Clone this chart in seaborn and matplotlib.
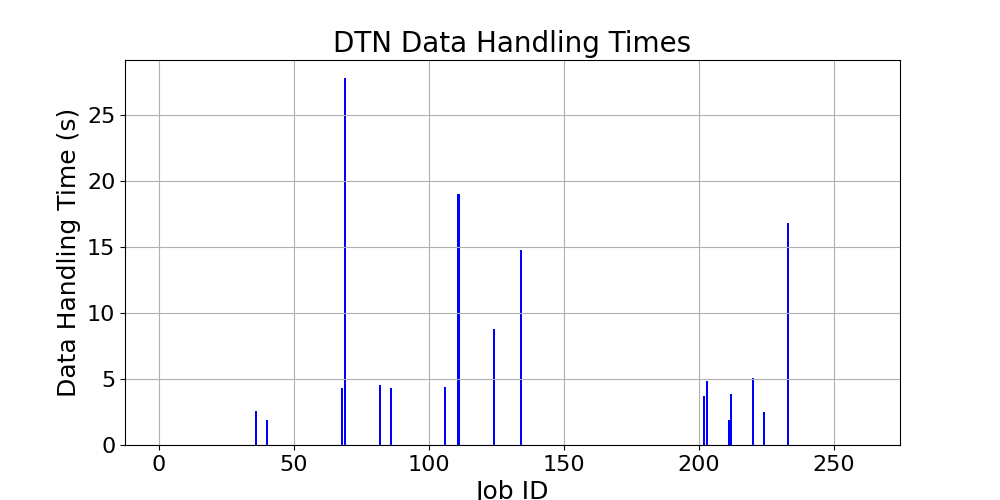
import matplotlib
matplotlib.use("Agg")
import matplotlib.pyplot as plt
import seaborn as sns
import pandas as pd

# ---------------------------------- Data ----------------------------------

job_ids = [36, 40, 68, 69, 82, 86, 106, 111, 124, 134,
           202, 203, 211, 212, 220, 224, 233]
handling_times = [2.6, 1.9, 4.3, 27.8, 4.55, 4.3, 4.4, 19.0, 8.8, 14.8,
                  3.7, 4.85, 1.9, 3.9, 5.05, 2.5, 16.85]

df = pd.DataFrame({"job_id": job_ids, "time": handling_times})

# ---------------------------------- Plot ----------------------------------

fig, ax = plt.subplots(figsize=(10, 5), dpi=100)
sns.barplot(data=df, x="job_id", y="time", native_scale=True, color="blue",
            saturation=1, width=0.8, linewidth=0, errorbar=None, ax=ax)

ax.set_xlim(-12.4, 274.4)
ax.set_xticks([0, 50, 100, 150, 200, 250])
ax.set_title("DTN Data Handling Times", fontsize=20)
ax.set_xlabel("Job ID", fontsize=18)
ax.set_ylabel("Data Handling Time (s)", fontsize=18)
ax.tick_params(labelsize=16)
ax.grid(True)

fig.savefig("out.png")
